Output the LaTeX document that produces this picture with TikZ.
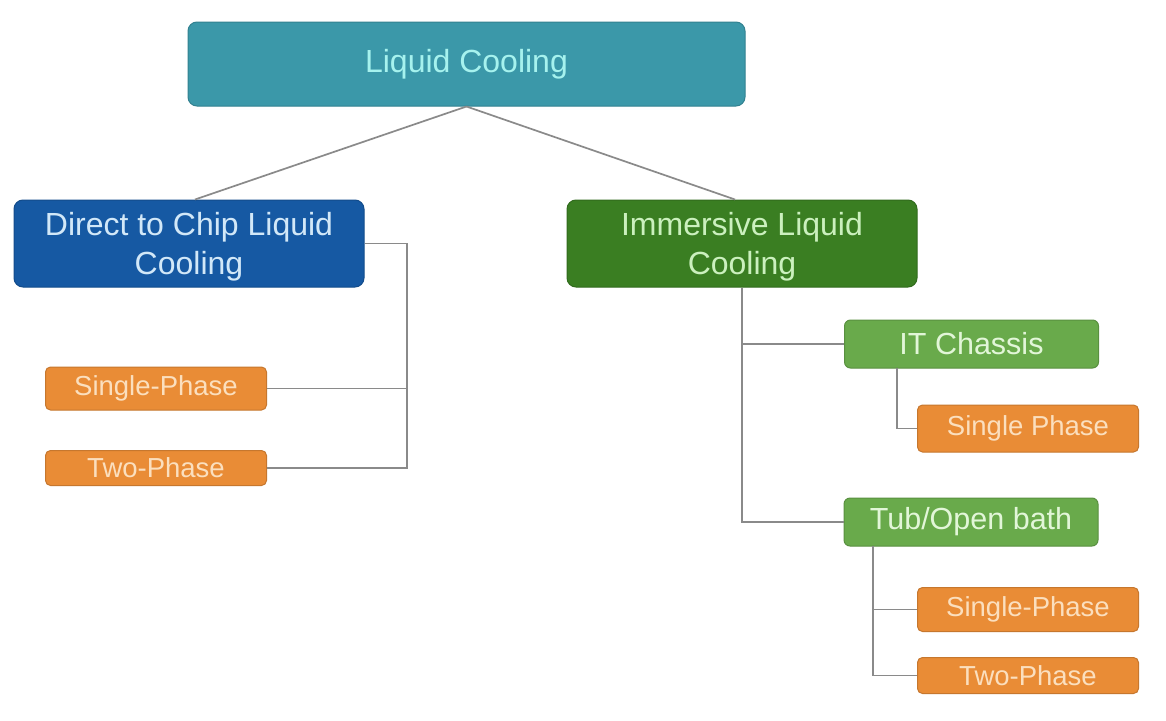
\documentclass[tikz,border=0pt]{standalone}
\usepackage{fontspec}
\setmainfont{Liberation Sans}
\definecolor{tealf}{HTML}{3B98A9}
\definecolor{tealt}{HTML}{A6F2EE}
\definecolor{bluef}{HTML}{1659A3}
\definecolor{bluet}{HTML}{D2E8F8}
\definecolor{dgreenf}{HTML}{3A7E22}
\definecolor{dgreent}{HTML}{CBF0BE}
\definecolor{lgreenf}{HTML}{69AA4B}
\definecolor{lgreent}{HTML}{E2F6D8}
\definecolor{orangef}{HTML}{E98C36}
\definecolor{oranget}{HTML}{FBDFBE}
\definecolor{linec}{HTML}{8A8A8A}
\newcommand{\twolines}[2]{\raisebox{-4pt}[\height][\depth]{\begin{tabular}{@{}c@{}}#1\\#2\end{tabular}}}
\tikzset{
  box/.style={rectangle, inner sep=0pt, align=center, line width=1pt},
  topbox/.style={box, fill=tealf, draw=tealf!85!black, text=tealt, rounded corners=9pt,
    minimum width=557pt, minimum height=84pt, font=\fontsize{32}{38.5}\selectfont},
  bigblue/.style={box, fill=bluef, draw=bluef!85!black, text=bluet, rounded corners=9pt,
    minimum width=350pt, minimum height=87pt, font=\fontsize{32}{38.5}\selectfont},
  biggreen/.style={box, fill=dgreenf, draw=dgreenf!85!black, text=dgreent, rounded corners=9pt,
    minimum width=350pt, minimum height=87pt, font=\fontsize{32}{38.5}\selectfont},
  midgreen/.style={box, fill=lgreenf, draw=lgreenf!85!black, text=lgreent, rounded corners=6pt,
    minimum width=254pt, minimum height=48pt, font=\fontsize{30.5}{36}\selectfont},
  leafbox/.style={box, fill=orangef, draw=orangef!85!black, text=oranget, rounded corners=5pt,
    minimum width=221pt, font=\fontsize{27.5}{32}\selectfont},
  conn/.style={draw=linec, line width=1.7pt}
}
\begin{document}
\begin{tikzpicture}[x=1pt,y=-1pt]
\useasboundingbox[fill=white] (0,0) rectangle (1166,720);
\node[topbox] (top) at (466.5,64) {Liquid Cooling};
\node[bigblue] (dtc) at (189,243.5) {\twolines{Direct to Chip Liquid}{Cooling}};
\node[biggreen] (imm) at (742,243.5) {\twolines{Immersive Liquid}{Cooling}};
\node[leafbox, minimum height=43pt] (ls1) at (156,388.5) {Single-Phase};
\node[leafbox, minimum height=35pt] (ls2) at (156,468) {Two-Phase};
\node[midgreen] (itc) at (971.5,344) {IT Chassis};
\node[leafbox, minimum height=47pt] (its) at (1028,428.5) {Single Phase};
\node[midgreen] (tub) at (971,522) {Tub/Open bath};
\node[leafbox, minimum height=44pt] (ts1) at (1028,609.5) {Single-Phase};
\node[leafbox, minimum height=36pt] (ts2) at (1028,675.5) {Two-Phase};
\coordinate (lbus) at (407,243.5);
\coordinate (cbus) at (897,368);
\coordinate (tbus) at (873,546);
\draw[conn] (top.south) -- ([xshift=6pt]dtc.north);
\draw[conn] (top.south) -- ([xshift=-7pt]imm.north);
\draw[conn] (dtc.east) -- (lbus) |- (ls2.east);
\draw[conn] (ls1.east) -- (ls1.east -| lbus);
\draw[conn] (imm.south) |- (tub.west);
\draw[conn] (imm.south |- itc.west) -- (itc.west);
\draw[conn] (cbus) |- (its.west);
\draw[conn] (tbus) |- (ts2.west);
\draw[conn] (ts1.west -| tbus) -- (ts1.west);
\end{tikzpicture}
\end{document}
